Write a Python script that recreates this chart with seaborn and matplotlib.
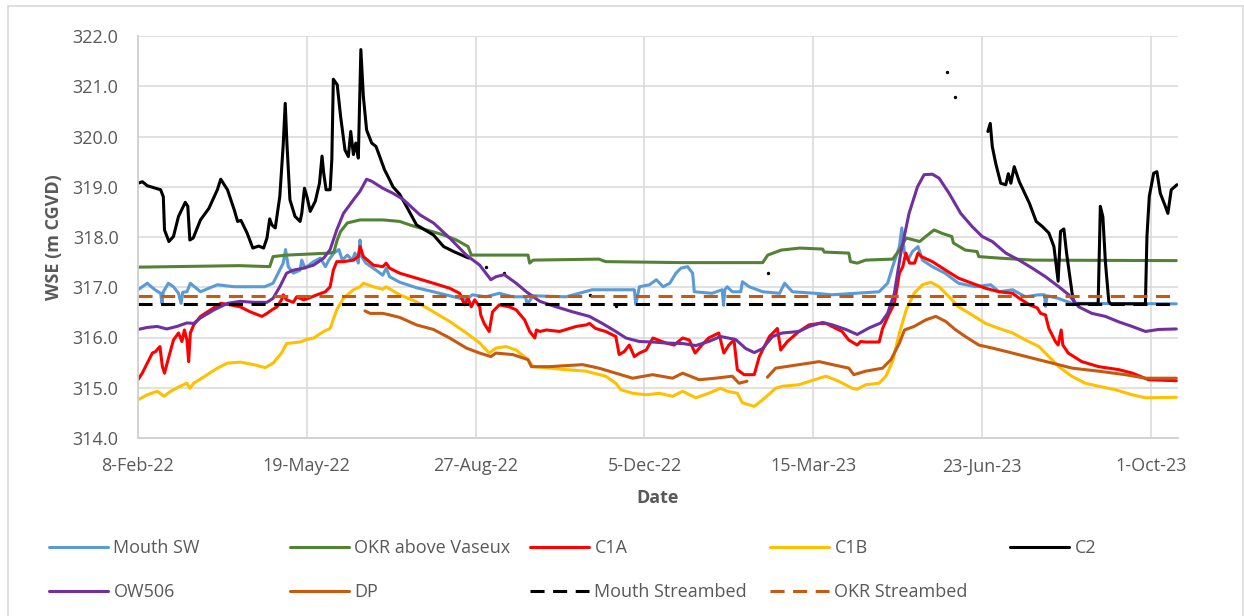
import numpy as np
import pandas as pd
import matplotlib
matplotlib.use('Agg')
import matplotlib.pyplot as plt
import matplotlib.dates as mdates
from matplotlib.lines import Line2D
from matplotlib.patches import Rectangle
import seaborn as sns

nan = np.nan
START = pd.Timestamp('2022-02-08')
X_END_DAYS = 616

# (days since 8-Feb-22, WSE in m CGVD); nan marks a gap in the logger record
MOUTH_SW = [
    (0, 316.95), (5.5, 317.08), (10, 316.95), (13.4, 316.88), (14.2, 316.68), (15, 316.91),
    (18, 317.08), (21, 317.01), (24, 316.88), (25.5, 316.68), (26.5, 316.90), (29, 316.91),
    (31, 317.08), (37, 316.91), (47, 317.05), (57, 317.01), (68.5, 317.01), (75, 317.01),
    (80, 317.08), (83, 317.28), (86, 317.48), (87.4, 317.75), (89, 317.41), (92, 317.28),
    (96, 317.34), (97, 317.54), (99, 317.38), (104, 317.51), (108, 317.58), (111, 317.41),
    (113, 317.54), (116, 317.68), (119, 317.75), (121, 317.54), (124, 317.64), (127, 317.54),
    (128.5, 317.68), (130.5, 317.48), (131.5, 317.94), (132.5, 317.61), (135, 317.48),
    (141, 317.34), (145, 317.24), (147, 317.38), (149, 317.21), (155, 317.10), (165, 316.99),
    (175, 316.91), (187, 316.81), (194.5, 316.75), (198, 316.85), (206, 316.81), (214, 316.88),
    (222, 316.81), (229.5, 316.81), (230.5, 316.66), (234, 316.83), (253.6, 316.81),
    (269, 316.95), (281, 316.95), (289, 316.95), (294, 316.95), (294.8, 316.66), (297, 317.01),
    (303, 317.05), (307, 317.15), (311, 317.01), (315, 317.08), (318.6, 317.28), (321.6, 317.38),
    (325.5, 317.41), (328.5, 317.28), (329.5, 316.91), (340, 316.88), (346, 316.95),
    (346.8, 316.64), (347.6, 316.95), (349, 317.01), (352, 316.91), (357, 316.91), (358, 317.11),
    (362, 317.01), (370, 316.91), (380, 316.88), (383, 317.08), (387.6, 316.91), (401, 316.88),
    (411, 316.85), (439, 316.91), (444, 317.08), (447, 317.41), (451, 317.81), (452.4, 318.18),
    (454, 317.68), (456, 317.54), (458.7, 317.71), (462, 317.81), (464.6, 317.54),
    (470.5, 317.41), (478, 317.28), (486, 317.08), (496, 317.01), (505, 317.05), (510, 316.91),
    (518, 316.95), (525.7, 316.81), (533.6, 316.85), (537, 316.85), (537.5, 316.62),
    (538.5, 316.83), (545, 316.78), (553, 316.68), (615, 316.67),
]

OKR_ABOVE_VASEUX = [
    (0, 317.40), (60, 317.43), (78, 317.41), (80, 317.61), (88, 317.64), (114, 317.68),
    (116, 317.70), (118, 317.94), (120, 318.11), (124, 318.28), (131.5, 318.34), (145, 318.34),
    (155, 318.31), (161, 318.24), (171, 318.14), (181, 318.04), (188.6, 317.94), (195.5, 317.81),
    (197.4, 317.64), (231, 317.64), (232, 317.48), (234, 317.54), (273, 317.56), (277, 317.51),
    (322.6, 317.49), (370, 317.49), (373, 317.64), (381, 317.74), (392, 317.78), (405.5, 317.76),
    (406.5, 317.70), (421, 317.68), (422, 317.51), (426, 317.48), (431, 317.54), (447, 317.56),
    (451, 317.74), (455, 317.98), (463, 317.91), (466.6, 318.01), (471.5, 318.14),
    (476.5, 318.07), (482, 318.01), (483, 317.88), (490, 317.74), (497, 317.71), (498, 317.61),
    (510, 317.58), (530, 317.54), (615, 317.53),
]

C1A = [
    (0, 315.16), (2.5, 315.29), (5.5, 315.49), (8.5, 315.69), (10.4, 315.72), (13, 315.82),
    (14.4, 315.43), (15.7, 315.29), (18.3, 315.62), (21, 315.95), (24, 316.09), (26, 315.92),
    (27.5, 316.15), (29, 315.95), (30, 315.52), (31, 316.09), (33, 316.25), (37, 316.42),
    (43, 316.55), (49, 316.68), (54.7, 316.65), (60.6, 316.61), (66.5, 316.51), (73.4, 316.42),
    (76.4, 316.48), (79.3, 316.55), (82.3, 316.61), (85, 316.75), (86, 316.85), (88, 316.75),
    (92, 316.70), (94, 316.81), (98, 316.75), (101, 316.78), (106, 316.85), (111, 316.91),
    (113.8, 317.01), (115.7, 317.34), (117.7, 317.51), (121.7, 317.51), (127.6, 317.54),
    (130.5, 317.61), (131.5, 317.81), (133.5, 317.61), (139.4, 317.44), (145, 317.41),
    (147, 317.48), (149, 317.38), (155, 317.28), (165, 317.18), (175, 317.08), (184.6, 316.98),
    (190.5, 316.88), (193.5, 316.65), (195.5, 316.78), (197.4, 316.61), (199.4, 316.75),
    (202.4, 316.61), (203, 316.45), (205, 316.28), (208, 316.12), (210, 316.51), (214, 316.65),
    (220, 316.61), (224, 316.55), (229, 316.35), (232, 316.12), (235, 315.99), (236, 316.15),
    (238, 316.12), (242, 316.15), (249.7, 316.12), (259.5, 316.22), (265.4, 316.25),
    (267.4, 316.28), (271, 316.18), (277, 316.12), (283, 316.02), (285, 315.66), (288, 315.72),
    (291, 315.85), (294, 315.62), (297, 315.69), (301, 315.75), (305, 315.99), (312.7, 315.89),
    (317.6, 315.85), (322.6, 315.99), (326.5, 315.95), (330, 315.69), (334, 315.85),
    (338, 315.99), (344, 316.09), (347, 315.69), (350, 315.85), (353, 315.95), (355, 315.36),
    (359, 315.26), (365, 315.26), (368, 315.62), (374, 316.02), (378.7, 316.18), (380.7, 315.75),
    (384.6, 315.92), (391.5, 316.12), (397.4, 316.25), (403.5, 316.28), (407.5, 316.28),
    (417, 316.12), (421, 315.95), (426, 315.85), (428, 315.92), (431, 315.91), (439, 315.91),
    (441, 316.18), (445, 316.48), (448, 316.68), (451, 317.28), (453, 317.41), (454.8, 317.68),
    (457, 317.48), (460, 317.48), (462, 317.68), (464, 317.61), (470.5, 317.51), (478.4, 317.34),
    (486, 317.18), (494, 317.08), (502, 316.98), (510, 316.91), (518, 316.88), (522, 316.78),
    (528, 316.65), (532.6, 316.59), (534.6, 316.48), (537.5, 316.45), (539.5, 316.18),
    (543.4, 315.92), (545, 315.85), (546.8, 316.15), (547.8, 315.85), (551, 315.69),
    (559, 315.52), (569, 315.42), (581, 315.36), (589, 315.29), (598.6, 315.16), (615, 315.14),
]

C1B = [
    (0, 314.76), (5.5, 314.86), (11.4, 314.93), (15.4, 314.83), (19.3, 314.93), (25, 315.03),
    (29, 315.09), (30.7, 314.99), (33, 315.09), (41, 315.26), (47, 315.39), (53, 315.49),
    (60.6, 315.51), (68.5, 315.46), (75.4, 315.40), (80, 315.49), (85, 315.69), (88, 315.88),
    (96, 315.91), (100, 315.96), (104, 315.99), (110, 316.12), (113.8, 316.18), (117.7, 316.55),
    (121.7, 316.78), (127.6, 316.95), (131.5, 317.01), (133.5, 317.08), (139.4, 317.01),
    (145, 316.96), (147, 317.01), (155, 316.85), (165, 316.71), (175, 316.51), (184.6, 316.32),
    (194.5, 316.09), (202.4, 315.89), (208, 315.69), (212, 315.79), (218, 315.82), (224, 315.75),
    (231, 315.56), (234, 315.42), (243.7, 315.39), (253.6, 315.36), (265.4, 315.33),
    (277, 315.23), (283, 315.09), (286, 314.96), (293, 314.89), (301, 314.86), (308.8, 314.89),
    (316.6, 314.83), (322.6, 314.93), (330.4, 314.80), (338, 314.89), (345, 314.99),
    (349, 314.93), (355, 314.89), (358, 314.70), (365, 314.63), (370, 314.76), (377.7, 314.99),
    (381.7, 315.03), (391.5, 315.06), (403.5, 315.19), (407.5, 315.23), (415, 315.13),
    (423, 314.99), (426, 314.97), (431, 315.06), (439, 315.09), (443, 315.23), (447, 315.53),
    (451, 316.09), (455, 316.55), (459.7, 316.88), (464.6, 317.05), (469.6, 317.10),
    (474.5, 317.01), (480.4, 316.81), (486, 316.61), (494, 316.45), (502, 316.28), (510, 316.18),
    (518, 316.09), (525.7, 315.95), (533.6, 315.82), (539.5, 315.62), (545.4, 315.42),
    (553, 315.23), (561, 315.09), (569, 315.03), (579, 314.96), (588.8, 314.86), (596.7, 314.80),
    (615, 314.81),
]

C2 = [
    (0, 319.07), (2.6, 319.10), (5.5, 319.02), (13.4, 318.94), (15, 318.80), (15.7, 318.14),
    (18.3, 317.91), (21, 318.01), (24, 318.41), (28, 318.69), (29.5, 318.61), (30.7, 317.94),
    (32.7, 317.98), (37, 318.34), (42, 318.57), (47, 318.94), (49, 319.15), (53, 318.94),
    (57, 318.54), (59, 318.31), (61, 318.33), (64.6, 318.08), (68, 317.78), (71.5, 317.82),
    (74.4, 317.78), (76.4, 317.98), (78, 318.36), (79.3, 318.24), (81.3, 318.18), (84, 318.81),
    (86, 319.83), (87.2, 320.66), (88.2, 319.87), (90, 318.74), (93, 318.41), (96, 318.31),
    (97, 318.47), (98.6, 318.97), (100, 318.81), (102, 318.51), (105, 318.71), (107.5, 319.07),
    (109, 319.61), (110, 319.27), (111.4, 318.94), (113.8, 318.94), (114.8, 319.54),
    (115.7, 321.14), (118, 321.03), (120, 320.40), (122.6, 319.73), (124.6, 319.60),
    (126, 320.10), (127.6, 319.64), (129, 319.87), (130.5, 319.57), (132, 321.73),
    (133.5, 320.79), (135.4, 320.13), (138.4, 319.87), (141, 319.80), (146, 319.34),
    (149, 319.14), (151, 319.00), (155, 318.85), (159, 318.61), (165, 318.24), (175, 318.04),
    (181, 317.81), (187, 317.71), (194.5, 317.60), (196, 317.58),
    (nan, nan),
    (503.4, 320.10), (504.8, 320.26), (506, 319.80), (508, 319.47), (511, 319.07), (514, 319.04),
    (515.5, 319.26), (517, 319.07), (519, 319.40), (522, 319.10), (528, 318.67), (532, 318.31),
    (535.6, 318.21), (539.5, 318.08), (542.5, 317.81), (545, 317.12), (546.4, 318.11),
    (548.4, 318.16), (550, 317.68), (553.7, 316.78), (555, 316.67), (568.7, 316.67),
    (570, 318.61), (571.5, 318.40), (573, 317.50), (575, 316.72), (576, 316.67), (596.7, 316.67),
    (597.6, 318.01), (599, 318.81), (601.6, 319.27), (603.5, 319.30), (605.5, 318.87),
    (608.5, 318.61), (610, 318.47), (612, 318.94), (615.4, 319.04),
]
# isolated C2 readings that show as single dots
C2_DOTS = [(206, 317.41), (216.5, 317.28), (268, 316.85), (283, 316.63), (373, 317.28),
           (479, 321.28), (484, 320.78)]

OW506 = [
    (0, 316.16), (5.5, 316.20), (11.4, 316.22), (17, 316.17), (23, 316.22), (29, 316.29),
    (33, 316.28), (37, 316.39), (45, 316.55), (53, 316.68), (60.6, 316.72), (68.5, 316.70),
    (76.4, 316.70), (80, 316.78), (84, 317.01), (88, 317.28), (92, 317.34), (98, 317.38),
    (104, 317.44), (110, 317.58), (113.8, 317.75), (117.7, 318.14), (121.7, 318.47),
    (127.6, 318.74), (131.5, 318.91), (135.4, 319.15), (138.4, 319.11), (145, 318.97),
    (151, 318.87), (157, 318.75), (167, 318.44), (175, 318.28), (184.6, 317.98), (194.5, 317.64),
    (202.4, 317.44), (209, 317.15), (212, 317.21), (217, 317.25), (224, 317.08), (230, 316.91),
    (238, 316.72), (247.7, 316.61), (257.5, 316.51), (267.4, 316.42), (275, 316.28),
    (283, 316.12), (289, 315.99), (297, 315.92), (305, 315.91), (312.7, 315.89), (322.6, 315.88),
    (330.4, 315.84), (338, 315.92), (345, 316.02), (354, 315.96), (360, 315.78), (365, 315.70),
    (370, 315.78), (375.8, 316.02), (381.7, 316.09), (391.5, 316.12), (397.6, 316.22),
    (405.5, 316.30), (411.4, 316.25), (419.3, 316.16), (426, 316.06), (433, 316.19),
    (440, 316.29), (444, 316.48), (448, 316.88), (451.8, 317.68), (456.7, 318.47),
    (461.7, 319.00), (465.6, 319.24), (470.5, 319.25), (474.5, 319.17), (480.4, 318.87),
    (487.3, 318.47), (494, 318.21), (500, 318.01), (506, 317.91), (514, 317.68), (521.8, 317.54),
    (529.7, 317.38), (537.5, 317.21), (545.4, 317.01), (551.3, 316.85), (557.2, 316.61),
    (565, 316.48), (573, 316.42), (581, 316.31), (588.8, 316.22), (596.7, 316.12),
    (604.5, 316.16), (615, 316.17),
]

DP = [
    (134.4, 316.53), (137.4, 316.48), (145, 316.48), (149, 316.45), (155, 316.40), (165, 316.25),
    (175, 316.16), (184.6, 315.99), (194.5, 315.79), (202.4, 315.69), (209, 315.62),
    (212, 315.69), (222, 315.66), (231, 315.56), (233, 315.42), (243.7, 315.42), (263.4, 315.46),
    (273, 315.39), (283, 315.29), (293, 315.19), (304.8, 315.26), (316.6, 315.19),
    (322.6, 315.29), (332.4, 315.16), (342, 315.19), (352, 315.23), (356, 315.09),
    (360.7, 315.13),
    (nan, nan),
    (372.8, 315.21), (377.7, 315.39), (383.6, 315.42), (391.5, 315.46), (403.5, 315.52),
    (411.4, 315.46), (421, 315.39), (424, 315.26), (431, 315.33), (441, 315.39), (446, 315.56),
    (451, 315.89), (454, 316.15), (459.7, 316.22), (466.6, 316.35), (472.5, 316.42),
    (478.4, 316.32), (484, 316.16), (490, 316.02), (498, 315.85), (506, 315.79), (518, 315.69),
    (529.7, 315.59), (541.5, 315.49), (553.3, 315.39), (569, 315.33), (584.8, 315.26),
    (596.7, 315.19), (615, 315.19),
]

MOUTH_STREAMBED = 316.67
OKR_STREAMBED = 316.82

GREY_TXT = '#595959'
GRID = '#D9D9D9'
DASH = (0, (4.6, 2.8))

# label, data, colour, linestyle  (Excel series order)
series = [
    ('Mouth SW', MOUTH_SW, '#5B9BD5', '-'),
    ('OKR above Vaseux', OKR_ABOVE_VASEUX, '#548235', '-'),
    ('C1A', C1A, '#FF0000', '-'),
    ('C1B', C1B, '#FFC000', '-'),
    ('C2', C2, '#000000', '-'),
    ('OW506', OW506, '#7030A0', '-'),
    ('DP', DP, '#C55A11', '-'),
    ('Mouth Streambed', [(0, MOUTH_STREAMBED), (X_END_DAYS, MOUTH_STREAMBED)], '#000000', DASH),
    ('OKR Streambed', [(0, OKR_STREAMBED), (X_END_DAYS, OKR_STREAMBED)], '#C55A11', DASH),
]


def segments(pairs):
    df = pd.DataFrame(pairs, columns=['day', 'wse'])
    df['date'] = START + pd.to_timedelta(df['day'], unit='D')
    seg = df['wse'].isna().cumsum()
    return [g.dropna() for _, g in df.groupby(seg) if g['wse'].notna().any()]


sns.set_style('white')
plt.rcParams['font.family'] = ['Open Sans', 'DejaVu Sans']

W, H = 1244, 616
fig = plt.figure(figsize=(W / 100, H / 100), dpi=100)
ax = fig.add_axes([138 / W, 1 - 438 / H, 1040 / W, 402 / H])

LW = 2.2
for label, data, color, ls in series:
    for seg in segments(data):
        sns.lineplot(data=seg, x='date', y='wse', color=color, lw=LW, linestyle=ls,
                     estimator=None, sort=False, ax=ax)
    if label == 'C2':
        dots = pd.DataFrame(C2_DOTS, columns=['day', 'wse'])
        dots['date'] = START + pd.to_timedelta(dots['day'], unit='D')
        sns.scatterplot(data=dots, x='date', y='wse', color=color, s=6, linewidth=0, ax=ax)

# axes styling (Excel-like)
ax.set_xlim(START, START + pd.Timedelta(days=X_END_DAYS))
ax.set_ylim(314, 322)
ax.set_yticks(np.arange(314, 322.1, 1.0))
ax.yaxis.set_major_formatter(plt.FuncFormatter(lambda v, p: f'{v:.1f}'))
ax.set_xticks(pd.date_range(START, periods=7, freq='100D'))
ax.xaxis.set_major_formatter(mdates.DateFormatter('%-d-%b-%y'))
ax.grid(True, color=GRID, lw=1.1)
ax.set_axisbelow(True)
for side in ['top', 'right']:
    ax.spines[side].set_visible(False)
for side in ['left', 'bottom']:
    ax.spines[side].set_color('#D0D0D0')
    ax.spines[side].set_linewidth(1.3)
ax.tick_params(axis='both', length=0, labelsize=13, labelcolor=GREY_TXT)
ax.tick_params(axis='y', pad=14)
ax.tick_params(axis='x', pad=14)
ax.set_xlabel('Date', fontsize=13, fontweight='bold', color=GREY_TXT, labelpad=10)
ax.set_ylabel('WSE (m CGVD)', fontsize=13, fontweight='bold', color=GREY_TXT, labelpad=7)

# legend laid out like Excel: 5 evenly spaced columns, row-major
col_x = [49, 290, 530, 770, 1010]
row_y = [548, 592]
for i, (label, data, color, ls) in enumerate(series):
    r, c = divmod(i, 5)
    h = Line2D([], [], color=color, lw=LW, linestyle=ls)
    fig.legend(handles=[h], labels=[label], loc='center left',
               bbox_to_anchor=(col_x[c] / W, 1 - row_y[r] / H), bbox_transform=fig.transFigure,
               frameon=False, borderpad=0, borderaxespad=0, handlelength=3.27,
               handletextpad=0.3, fontsize=13, labelcolor=GREY_TXT)

# chart-area border
fig.add_artist(Rectangle((8 / W, -0.02), (1243 - 8) / W, 1.02 - 6 / H,
                         transform=fig.transFigure, fill=False, edgecolor=GRID, lw=1.2))

fig.savefig('out.png', dpi=100, facecolor='white')
